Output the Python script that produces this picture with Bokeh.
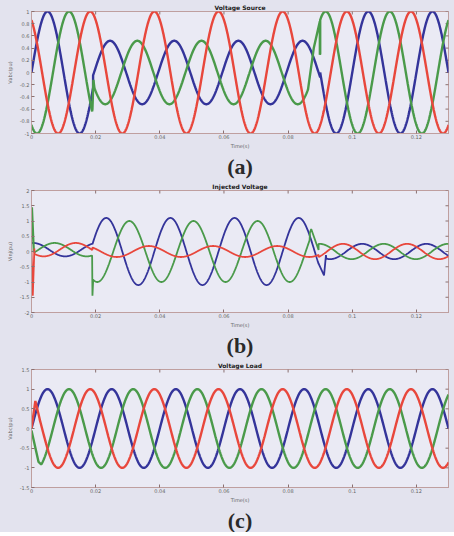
import numpy as np
from bokeh.plotting import figure
from bokeh.layouts import column
from bokeh.models import Title, FixedTicker, Range1d
from bokeh.embed import file_html
from bokeh.resources import INLINE

# ---------------- data ----------------
F_HZ = 50.0
T_END = 0.13
x_ticks = [0, 0.02, 0.04, 0.06, 0.08, 0.1, 0.12]
x_tick_labels = ["0", "0.02", "0.04", "0.06", "0.08", "0.1", "0.12"]

# (a) Voltage Source : segments (pre-sag, sag, post-sag), amplitude and time of a positive peak
a_seg_start = [0.0, 0.0192, 0.0900]
a_blue_amp = [1.0, 0.52, 1.0]
a_blue_peak = [0.0050, 0.0245, 0.0050]
a_green_amp = [1.0, 0.52, 1.0]
a_green_peak = [0.0117, 0.0130, 0.0117]
a_red_amp = [1.0, 1.0, 1.0]
a_red_peak = [0.0183, 0.0183, 0.0183]
a_green_tr1_t = [0.0190, 0.0193, 0.0196]
a_green_tr1_v = [-0.60, -0.12, -0.25]
a_green_tr2_t = [0.0862, 0.0880, 0.0899]
a_green_tr2_v = [-0.28, 0.40, 0.84]
a_y_ticks = [-1, -0.8, -0.6, -0.4, -0.2, 0, 0.2, 0.4, 0.6, 0.8, 1]
a_y_labels = ["-1", "-0.8", "-0.6", "-0.4", "-0.2", "0", "0.2", "0.4", "0.6", "0.8", "1"]

# (b) Injected Voltage
b_seg_start = [0.0, 0.0190, 0.0895]
b_offset = [0.06, 0.0, 0.0]
b_blue_amp = [0.22, 1.10, 0.25]
b_blue_peak = [0.0005, 0.0033, 0.0031]
b_green_amp = [0.22, 1.00, 0.25]
b_green_peak = [0.0072, 0.0105, 0.0098]
b_red_amp = [0.22, 0.18, 0.25]
b_red_peak = [0.0138, 0.0166, 0.0171]
b_green_tr1_t = [0.0, 0.0002, 0.0008]
b_green_tr1_v = [0.0, 1.45, 0.0]
b_red_tr1_t = [0.0, 0.0004, 0.0009]
b_red_tr1_v = [0.0, -1.45, 0.1]
b_green_tr2_t = [0.0189, 0.0190, 0.0192]
b_green_tr2_v = [-0.15, -1.45, -1.0]
b_green_tr3_t = [0.0868, 0.0872, 0.0895]
b_green_tr3_v = [0.62, 0.74, 0.05]
b_blue_tr_t = [0.0895, 0.0912, 0.0918]
b_blue_tr_v = [-0.40, -0.78, -0.12]
b_y_ticks = [-2, -1.5, -1, -0.5, 0, 0.5, 1, 1.5, 2]
b_y_labels = ["-2", "-1.5", "-1", "-0.5", "0", "0.5", "1", "1.5", "2"]

# (c) Voltage Load
c_seg_start = [0.0]
c_blue_amp = [1.0]
c_blue_peak = [0.0050]
c_green_amp = [1.0]
c_green_peak = [0.0117]
c_red_amp = [1.0]
c_red_peak = [0.0183]
c_red_tr_t = [0.0, 0.0012, 0.0025]
c_red_tr_v = [0.0, 0.70, 0.26]
c_green_tr_t = [0.0, 0.0022, 0.0030]
c_green_tr_v = [-0.05, -0.85, -0.91]
c_y_ticks = [-1.5, -1, -0.5, 0, 0.5, 1, 1.5]
c_y_labels = ["-1.5", "-1", "-0.5", "0", "0.5", "1", "1.5"]

# ---------------- styling ----------------
BLUE = "#34349a"
GREEN = "#4a9a4a"
RED = "#e8473c"
PAGE_BG = "#e3e3ee"
PLOT_BG = "#eaeaf4"
FRAME = "#bf9f9f"
TICK = "#8a7070"


def time_grid(bounds):
    base = np.arange(0.0, T_END + 1e-9, 0.0001)
    extra = []
    for b in bounds[1:]:
        extra += [b - 1e-7, b]
    return np.unique(np.concatenate([base, np.array(extra)]))


def wave(t, seg_start, amps, peaks, offsets=None):
    y = np.zeros_like(t)
    bnd = list(seg_start) + [T_END + 1.0]
    for i in range(len(seg_start)):
        m = (t >= bnd[i]) & (t < bnd[i + 1])
        off = offsets[i] if offsets else 0.0
        y[m] = off + amps[i] * np.cos(2 * np.pi * F_HZ * (t[m] - peaks[i]))
    return y


def with_transient(t, y, tt, vv):
    m = (t >= tt[0]) & (t <= tt[-1])
    t2 = np.concatenate([t[~m], np.array(tt)])
    y2 = np.concatenate([y[~m], np.array(vv)])
    o = np.argsort(t2, kind="stable")
    return t2[o], y2[o]


def make_fig(title, caption, ylabel, yr, yt, yl, top, frame_h, cap_standoff):
    p = figure(frame_width=417, frame_height=frame_h,
               x_range=Range1d(0, T_END), y_range=Range1d(*yr),
               output_backend="svg", toolbar_location=None,
               min_border_left=31, min_border_right=6,
               min_border_top=top, min_border_bottom=20,
               background_fill_color=PLOT_BG, border_fill_color=PAGE_BG,
               outline_line_color=FRAME, outline_line_width=1)
    p.grid.visible = False
    p.title.text = title
    p.title.align = "center"
    p.title.text_font = "DejaVu Sans"
    p.title.text_font_size = "6px"
    p.title.text_font_style = "bold"
    p.title.text_color = "#222222"
    p.title.standoff = 2
    p.title.offset = 0

    xa = p.xaxis[0]
    xa.ticker = FixedTicker(ticks=x_ticks)
    xa.major_label_overrides = dict(zip(x_ticks, x_tick_labels))
    xa.axis_label = "Time(s)"
    ya = p.yaxis[0]
    ya.ticker = FixedTicker(ticks=yt)
    ya.major_label_overrides = dict(zip(yt, yl))
    ya.axis_label = ylabel
    for ax in (xa, ya):
        ax.major_tick_in = 3
        ax.major_tick_out = 0
        ax.minor_tick_line_color = None
        ax.axis_line_color = FRAME
        ax.major_tick_line_color = TICK
        ax.major_label_text_font = "DejaVu Sans"
        ax.major_label_text_font_size = "5px"
        ax.major_label_text_color = "#666666"
        ax.major_label_standoff = 2
        ax.axis_label_text_font = "DejaVu Sans"
        ax.axis_label_text_font_size = "5px"
        ax.axis_label_text_font_style = "normal"
        ax.axis_label_text_color = "#666666"
    xa.major_label_standoff = 1
    xa.axis_label_standoff = 1
    ya.axis_label_standoff = 4

    # MATLAB-style ticks on the top and right edges of the box (half of each dash is clipped)
    p.scatter(x=x_ticks, y=[yr[1]] * len(x_ticks), marker="dash", angle=np.pi / 2,
              size=6, line_color=TICK, line_width=1)
    p.scatter(x=[T_END] * len(yt), y=yt, marker="dash", size=6, line_color=TICK, line_width=1)

    p.add_layout(Title(text=caption, align="center", text_font="Liberation Serif",
                       text_font_size="22px", text_font_style="bold",
                       text_color="#2a2a2a", standoff=cap_standoff), "below")
    return p


# ---------------- (a) ----------------
ta = time_grid(a_seg_start)
pa = make_fig("Voltage Source", "(a)", "Vabc(pu)", (-1, 1), a_y_ticks, a_y_labels, 6, 122, 1)
yb = wave(ta, a_seg_start, a_blue_amp, a_blue_peak)
yg = wave(ta, a_seg_start, a_green_amp, a_green_peak)
yr = wave(ta, a_seg_start, a_red_amp, a_red_peak)
tg, yg = with_transient(ta, yg, a_green_tr1_t, a_green_tr1_v)
tg, yg = with_transient(tg, yg, a_green_tr2_t, a_green_tr2_v)
pa.line(ta, yb, line_color=BLUE, line_width=2.4)
pa.line(tg, yg, line_color=GREEN, line_width=2.4)
pa.line(ta, yr, line_color=RED, line_width=2.4)

# ---------------- (b) ----------------
tb = time_grid(b_seg_start)
pb = make_fig("Injected Voltage", "(b)", "Vinj(pu)", (-2, 2), b_y_ticks, b_y_labels, 10, 122, 1)
yb = wave(tb, b_seg_start, b_blue_amp, b_blue_peak, b_offset)
yg = wave(tb, b_seg_start, b_green_amp, b_green_peak, b_offset)
yr = wave(tb, b_seg_start, b_red_amp, b_red_peak, b_offset)
tbb, yb = with_transient(tb, yb, b_blue_tr_t, b_blue_tr_v)
tgg, yg = with_transient(tb, yg, b_green_tr1_t, b_green_tr1_v)
tgg, yg = with_transient(tgg, yg, b_green_tr2_t, b_green_tr2_v)
tgg, yg = with_transient(tgg, yg, b_green_tr3_t, b_green_tr3_v)
trr, yr = with_transient(tb, yr, b_red_tr1_t, b_red_tr1_v)
pb.line(tbb, yb, line_color=BLUE, line_width=1.8)
pb.line(tgg, yg, line_color=GREEN, line_width=1.8)
pb.line(trr, yr, line_color=RED, line_width=1.8)

# ---------------- (c) ----------------
tc = time_grid(c_seg_start)
pc = make_fig("Voltage Load", "(c)", "Vabc(pu)", (-1.5, 1.5), c_y_ticks, c_y_labels, 9, 118, 0)
yb = wave(tc, c_seg_start, c_blue_amp, c_blue_peak)
yg = wave(tc, c_seg_start, c_green_amp, c_green_peak)
yr = wave(tc, c_seg_start, c_red_amp, c_red_peak)
tgc, yg = with_transient(tc, yg, c_green_tr_t, c_green_tr_v)
trc, yr = with_transient(tc, yr, c_red_tr_t, c_red_tr_v)
pc.line(tc, yb, line_color=BLUE, line_width=2.4)
pc.line(tgc, yg, line_color=GREEN, line_width=2.4)
pc.line(trc, yr, line_color=RED, line_width=2.4)

layout = column(pa, pb, pc, spacing=0, styles={"background-color": PAGE_BG})
html = file_html(layout, INLINE)
html = html.replace("<body>", '<body style="background-color:%s;">' % PAGE_BG, 1)
open("out.html", "w").write(html)
